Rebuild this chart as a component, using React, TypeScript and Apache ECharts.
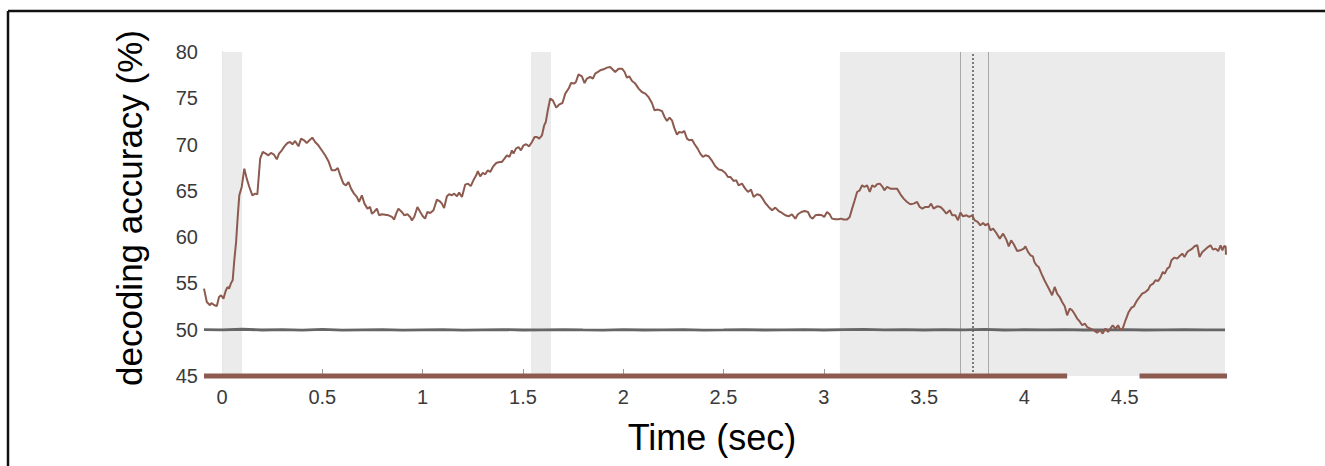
import React, { useEffect, useRef } from "react";
import * as echarts from "echarts";

// decoding accuracy time course (sec, %)
const accTime = [
  -0.09, -0.076, -0.06, -0.053, -0.038, -0.026, -0.015, -0.005, 0.007, 0.018, 0.027, 0.035, 0.045, 0.053, 0.061, 0.07, 0.078, 0.086, 0.098,
  0.111, 0.123, 0.136, 0.151, 0.165, 0.176, 0.19, 0.203, 0.218, 0.231, 0.244, 0.259, 0.273, 0.284, 0.298, 0.311, 0.326, 0.339, 0.351, 0.364,
  0.381, 0.394, 0.409, 0.422, 0.436, 0.45, 0.464, 0.48, 0.497, 0.514, 0.53, 0.547, 0.564, 0.577, 0.592, 0.605, 0.618, 0.63, 0.643, 0.658,
  0.672, 0.683, 0.697, 0.71, 0.725, 0.738, 0.747, 0.758, 0.772, 0.783, 0.797, 0.813, 0.83, 0.847, 0.858, 0.868, 0.879, 0.896, 0.909,
  0.924, 0.938, 0.946, 0.958, 0.974, 0.988, 1.001, 1.012, 1.024, 1.038, 1.054, 1.071, 1.084, 1.096, 1.107, 1.121, 1.132, 1.146, 1.157,
  1.171, 1.182, 1.196, 1.212, 1.226, 1.24, 1.253, 1.267, 1.275, 1.287, 1.3, 1.312, 1.325, 1.337, 1.35, 1.367, 1.383, 1.395, 1.408, 1.42,
  1.433, 1.445, 1.453, 1.465, 1.478, 1.49, 1.503, 1.516, 1.531, 1.545, 1.558, 1.57, 1.581, 1.595, 1.606, 1.614, 1.624, 1.636, 1.649, 1.666,
  1.682, 1.697, 1.711, 1.728, 1.74, 1.756, 1.764, 1.777, 1.794, 1.807, 1.819, 1.835, 1.849, 1.86, 1.874, 1.885, 1.902, 1.919, 1.935,
  1.96, 1.977, 1.994, 2.007, 2.018, 2.03, 2.044, 2.06, 2.077, 2.093, 2.11, 2.126, 2.143, 2.156, 2.173, 2.193, 2.206, 2.218, 2.231, 2.243,
  2.254, 2.268, 2.279, 2.293, 2.304, 2.318, 2.329, 2.343, 2.356, 2.371, 2.384, 2.397, 2.409, 2.426, 2.443, 2.459, 2.476, 2.492, 2.509,
  2.522, 2.534, 2.55, 2.564, 2.575, 2.592, 2.608, 2.622, 2.637, 2.65, 2.667, 2.683, 2.695, 2.708, 2.725, 2.742, 2.758, 2.775, 2.792,
  2.808, 2.825, 2.841, 2.858, 2.871, 2.888, 2.904, 2.921, 2.933, 2.944, 2.958, 2.974, 2.991, 3.002, 3.016, 3.029, 3.041, 3.057, 3.074,
  3.086, 3.099, 3.116, 3.129, 3.141, 3.154, 3.166, 3.179, 3.191, 3.202, 3.216, 3.229, 3.241, 3.254, 3.265, 3.279, 3.291, 3.302, 3.315,
  3.332, 3.348, 3.365, 3.382, 3.398, 3.415, 3.431, 3.448, 3.465, 3.478, 3.491, 3.506, 3.523, 3.535, 3.547, 3.565, 3.582, 3.598, 3.611,
  3.628, 3.64, 3.656, 3.669, 3.681, 3.694, 3.711, 3.725, 3.739, 3.752, 3.767, 3.78, 3.794, 3.805, 3.819, 3.83, 3.844, 3.86, 3.877, 3.894,
  3.91, 3.922, 3.934, 3.947, 3.964, 3.98, 3.997, 4.005, 4.018, 4.03, 4.042, 4.05, 4.06, 4.071, 4.085, 4.1, 4.113, 4.126, 4.138, 4.151,
  4.163, 4.176, 4.188, 4.201, 4.213, 4.226, 4.238, 4.251, 4.263, 4.274, 4.288, 4.301, 4.313, 4.329, 4.346, 4.362, 4.379, 4.39, 4.404,
  4.417, 4.429, 4.44, 4.454, 4.467, 4.479, 4.49, 4.504, 4.52, 4.534, 4.546, 4.557, 4.574, 4.587, 4.603, 4.617, 4.628, 4.642, 4.653, 4.667,
  4.678, 4.69, 4.7, 4.712, 4.723, 4.733, 4.748, 4.762, 4.773, 4.787, 4.798, 4.812, 4.823, 4.837, 4.848, 4.862, 4.873, 4.887, 4.9, 4.915,
  4.928, 4.94, 4.953, 4.966, 4.978, 4.987, 4.995, 5.003, 5.005,
];
const accValue = [
  54.44, 52.99, 52.64, 52.89, 52.64, 52.56, 53.53, 53.72, 53.36, 54.18, 54.61, 54.44, 55.05, 55.34, 57.5, 59.47, 62.17, 64.52, 65.42,
  67.4, 66.32, 65.42, 64.52, 64.7, 64.63, 68.48, 69.2, 69.02, 68.84, 69.09, 68.91, 68.41, 69.02, 69.38, 69.81, 70.17, 70.28, 70.03, 70.39,
  69.81, 70.64, 70.46, 70.17, 70.46, 70.75, 70.28, 69.92, 69.38, 68.84, 68.23, 67.22, 67.22, 67.47, 66.5, 65.78, 65.6, 65.96, 65.24, 64.7,
  64.34, 63.8, 64.52, 63.62, 63.08, 63.26, 62.54, 62.72, 63.08, 62.36, 62.47, 62.43, 62.36, 62.18, 61.9, 62.54, 63.08, 62.72, 62.36,
  62.47, 62.18, 61.82, 62.18, 63.26, 62.72, 62.25, 62.0, 62.72, 62.61, 62.9, 64.05, 63.9, 63.62, 63.15, 64.41, 64.63, 64.52, 64.7,
  64.41, 64.81, 64.34, 65.67, 65.78, 65.52, 66.14, 66.68, 67.14, 66.57, 66.93, 66.79, 67.22, 67.04, 67.58, 68.01, 68.12, 68.12, 68.48, 68.84,
  68.66, 69.38, 69.02, 69.56, 69.74, 69.38, 69.92, 70.03, 69.81, 70.28, 70.82, 70.82, 70.64, 71.0, 72.08, 72.44, 73.7, 74.97, 74.78, 73.99,
  74.35, 74.49, 75.5, 76.05, 76.65, 76.59, 76.76, 77.59, 77.37, 76.65, 77.13, 77.3, 77.13, 77.67, 77.84, 78.02, 78.13, 78.31, 78.38,
  77.84, 78.2, 78.2, 77.84, 77.23, 77.37, 76.87, 76.59, 76.05, 75.68, 75.5, 75.14, 74.49, 73.7, 73.78, 73.63, 72.98, 72.55, 72.91, 72.62,
  71.83, 71.08, 71.36, 71.29, 71.47, 70.64, 70.46, 70.53, 70.03, 69.56, 69.02, 68.66, 68.84, 68.73, 68.23, 67.65, 67.3, 67.22, 66.93,
  66.5, 66.5, 66.07, 66.14, 65.6, 65.78, 65.24, 64.88, 65.13, 64.34, 64.63, 64.52, 64.16, 63.69, 63.26, 62.9, 63.19, 62.82, 62.61,
  62.36, 62.25, 62.47, 62.0, 62.47, 62.72, 62.82, 62.72, 62.18, 62.0, 62.36, 62.43, 62.36, 62.18, 62.72, 62.47, 62.0, 61.93, 61.93,
  62.0, 61.9, 61.9, 62.18, 63.08, 63.98, 64.88, 65.06, 65.6, 65.42, 65.6, 64.88, 65.6, 65.42, 65.71, 65.78, 65.49, 65.06, 65.42,
  65.24, 65.24, 65.24, 64.63, 64.16, 63.8, 63.55, 63.62, 63.8, 63.26, 63.08, 63.26, 63.26, 63.62, 63.08, 63.33, 63.26, 62.9, 62.54,
  62.9, 62.36, 62.36, 61.82, 62.65, 62.25, 62.36, 62.18, 62.36, 61.82, 61.64, 61.28, 61.53, 61.28, 61.46, 60.74, 60.92, 60.45, 59.84, 60.38,
  59.73, 59.01, 59.66, 59.23, 58.5, 58.58, 58.76, 59.01, 58.4, 58.04, 57.93, 57.31, 56.96, 56.78, 56.06, 55.34, 54.8, 54.26, 53.72, 54.62,
  53.9, 53.53, 53.0, 52.53, 51.56, 52.28, 52.1, 51.67, 51.2, 50.94, 50.48, 50.66, 50.29, 50.12, 49.94, 49.69, 49.94, 49.58, 50.12,
  49.76, 50.12, 50.48, 50.12, 50.48, 49.94, 50.12, 51.02, 51.92, 52.39, 52.53, 53.0, 53.53, 53.9, 54.07, 54.33, 54.8, 54.98, 55.34, 55.26,
  55.63, 56.24, 56.06, 56.6, 56.78, 57.5, 57.79, 57.68, 57.93, 58.22, 57.86, 58.4, 58.58, 58.76, 59.01, 59.12, 57.86, 58.4, 58.65, 58.93,
  59.12, 58.65, 58.76, 58.5, 59.12, 58.58, 59.01, 59.01, 58.1,
];

// chance-level (shuffled) accuracy
const chanceTime = [
  -0.09, 0, 0.1, 0.2, 0.3, 0.4, 0.5, 0.6, 0.7, 0.8, 0.9, 1.0, 1.1, 1.2, 1.3, 1.4, 1.5, 1.6, 1.7, 1.8, 1.9, 2.0, 2.1, 2.2, 2.3, 2.4, 2.5,
  2.6, 2.7, 2.8, 2.9, 3.0, 3.1, 3.2, 3.3, 3.4, 3.5, 3.6, 3.7, 3.8, 3.9, 4.0, 4.1, 4.2, 4.3, 4.4, 4.5, 4.6, 4.7, 4.8, 4.9, 5.0,
];
const chanceValue = [
  50.02, 49.98, 50.05, 49.97, 50.01, 49.96, 50.03, 49.95, 49.99, 50.02, 49.96, 49.98, 50.0, 49.95, 49.99, 50.01, 49.97, 49.99, 50.02, 49.98,
  49.96, 50.0, 49.97, 49.99, 50.01, 49.96, 49.98, 50.02, 49.97, 49.99, 50.0, 49.97, 50.02, 50.04, 49.99, 50.01, 49.97, 50.02, 49.99, 50.03,
  49.97, 50.0, 49.98, 50.02, 49.97, 49.99, 50.01, 49.97, 49.99, 50.01, 49.98, 49.99,
];

const shadedWindows = [
  [0, 0.1],
  [1.54, 1.64],
  [3.08, 5.0],
];
const sigSegments = [
  [-0.09, 4.213],
  [4.574, 5.01],
];
const solidMarkers = [3.68, 3.82];
const dottedMarkers = [3.74];
const xTickValues = [0, 0.5, 1, 1.5, 2, 2.5, 3, 3.5, 4, 4.5];

const BROWN = "#8c5a4e";
const FONT = "Liberation Sans, Arial, Helvetica, sans-serif";

export default function App() {
  const ref = useRef<HTMLDivElement>(null);

  useEffect(() => {
    document.body.style.margin = "0";
    document.body.style.overflow = "hidden";
    if (!ref.current) return;
    const chart = echarts.init(ref.current, undefined, { renderer: "svg" });

    const accData = accTime.map((t, i) => [t, accValue[i]]);
    const chanceData = chanceTime.map((t, i) => [t, chanceValue[i]]);

    const vLines: any[] = [];
    solidMarkers.forEach((x) =>
      vLines.push([
        { coord: [x, 45], lineStyle: { color: "#a8a8a8", width: 1, type: "solid" } },
        { coord: [x, 80] },
      ])
    );
    dottedMarkers.forEach((x) =>
      vLines.push([
        { coord: [x, 45], lineStyle: { color: "#555555", width: 1.5, type: [2, 2] } },
        { coord: [x, 80] },
      ])
    );

    const sigSeries = sigSegments.map((seg) => ({
      type: "line",
      data: [
        [seg[0], 45],
        [seg[1], 45],
      ],
      symbol: "none",
      clip: false,
      z: 6,
      lineStyle: { color: BROWN, width: 5, cap: "butt" },
      silent: true,
    }));

    chart.setOption({
      animation: false,
      grid: { left: 204, top: 52, width: 1023, height: 324 },
      xAxis: {
        type: "value",
        min: -0.09,
        max: 5.01,
        axisLine: { show: false },
        axisTick: {
          show: true,
          inside: true,
          length: 7,
          customValues: xTickValues,
          lineStyle: { color: "#999999", width: 1 },
        },
        axisLabel: {
          customValues: xTickValues,
          color: "#3a3a3a",
          fontSize: 20,
          fontFamily: FONT,
          margin: 11,
        },
        splitLine: { show: false },
      },
      yAxis: {
        type: "value",
        min: 45,
        max: 80,
        interval: 5,
        axisLine: { show: true, lineStyle: { color: "#a0a0a0", width: 1 } },
        axisTick: { show: true, inside: true, length: 9, lineStyle: { color: "#a0a0a0", width: 1 } },
        axisLabel: { color: "#3a3a3a", fontSize: 20, fontFamily: FONT, margin: 6 },
        splitLine: { show: false },
      },
      graphic: [
        {
          type: "line",
          shape: { x1: 8, y1: 11, x2: 1325, y2: 11 },
          style: { stroke: "#111111", lineWidth: 2.5 },
        },
        {
          type: "line",
          shape: { x1: 8, y1: 11, x2: 8, y2: 466 },
          style: { stroke: "#111111", lineWidth: 2.5 },
        },
        {
          type: "text",
          x: 129,
          y: 208,
          rotation: Math.PI / 2,
          style: {
            text: "decoding accuracy (%)",
            fontSize: 35,
            fontFamily: FONT,
            fill: "#000000",
            align: "center",
            verticalAlign: "middle",
          },
        },
        {
          type: "text",
          x: 712,
          y: 437,
          style: {
            text: "Time (sec)",
            fontSize: 36,
            fontFamily: FONT,
            fill: "#000000",
            align: "center",
            verticalAlign: "middle",
          },
        },
      ],
      series: [
        {
          type: "line",
          name: "chance",
          data: chanceData,
          symbol: "none",
          z: 3,
          lineStyle: { color: "#666666", width: 2.8 },
          silent: true,
          markArea: {
            silent: true,
            itemStyle: { color: "#ebebeb" },
            data: shadedWindows.map((w) => [{ coord: [w[0], 80] }, { coord: [w[1], 45] }]),
          },
          markLine: {
            silent: true,
            symbol: ["none", "none"],
            label: { show: false },
            z: 2,
            data: vLines,
          },
        },
        {
          type: "line",
          name: "decoding",
          data: accData,
          symbol: "none",
          z: 4,
          lineStyle: { color: BROWN, width: 2 },
          silent: true,
        },
        ...sigSeries,
      ],
    });

    return () => chart.dispose();
  }, []);

  return <div ref={ref} style={{ width: 1325, height: 466 }} />;
}
